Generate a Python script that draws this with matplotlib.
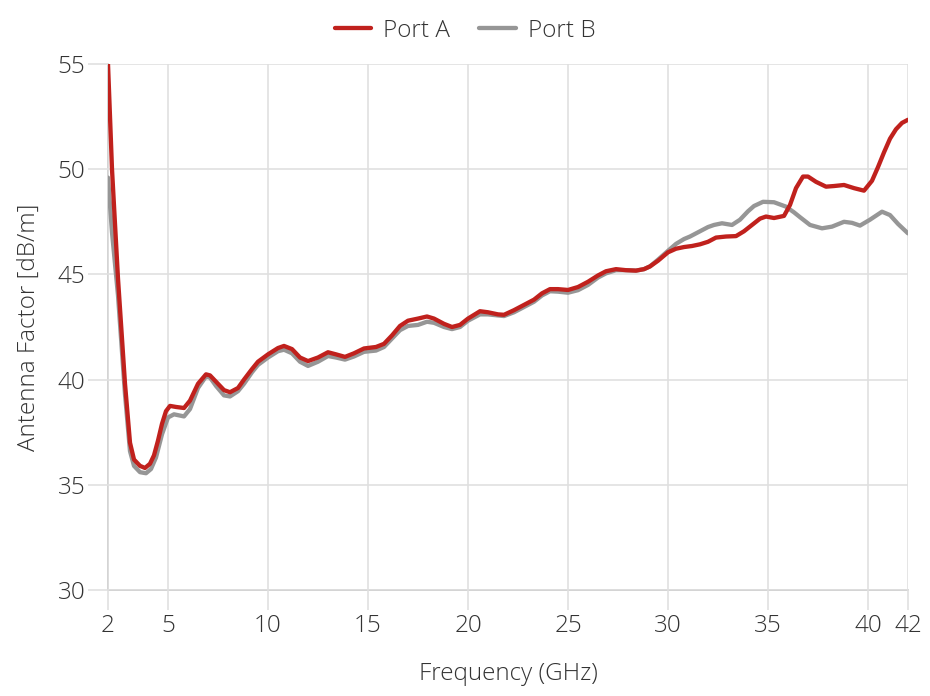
import matplotlib
matplotlib.use("Agg")
import matplotlib.pyplot as plt

# ---- data ----
freq_a = [2.0, 2.2, 2.5, 2.85, 3.1, 3.3, 3.6, 3.85, 4.1, 4.3, 4.5, 4.7, 4.9, 5.1, 5.4, 5.8,
          6.1, 6.5, 6.9, 7.1, 7.4, 7.8, 8.1, 8.5, 8.8, 9.2, 9.5, 10.0, 10.5, 10.8, 11.2,
          11.6, 12.0, 12.5, 13.0, 13.4, 13.85, 14.3, 14.8, 15.4, 15.8, 16.2, 16.6, 17.0,
          17.5, 17.95, 18.3, 18.8, 19.2, 19.6, 20.0, 20.6, 21.0, 21.5, 21.8, 22.3, 22.8,
          23.3, 23.7, 24.1, 24.5, 25.0, 25.5, 26.0, 26.5, 26.9, 27.4, 27.9, 28.4, 28.8,
          29.1, 29.5, 30.0, 30.4, 30.8, 31.2, 31.6, 32.0, 32.4, 32.9, 33.4, 33.8, 34.2,
          34.6, 34.9, 35.3, 35.8, 36.1, 36.4, 36.75, 37.0, 37.4, 37.9, 38.3, 38.8, 39.3,
          39.8, 40.2, 40.5, 40.8, 41.1, 41.4, 41.7, 42.0]
port_a = [55.0, 50.0, 44.8, 39.8, 37.0, 36.2, 35.9, 35.8, 36.0, 36.4, 37.1, 37.9, 38.5, 38.75,
          38.7, 38.65, 39.0, 39.8, 40.25, 40.2, 39.9, 39.5, 39.4, 39.6, 40.0, 40.5, 40.85,
          41.2, 41.5, 41.6, 41.45, 41.05, 40.88, 41.05, 41.3, 41.2, 41.08, 41.25, 41.48,
          41.55, 41.7, 42.1, 42.55, 42.8, 42.9, 43.0, 42.9, 42.65, 42.5, 42.6, 42.9, 43.25,
          43.2, 43.1, 43.08, 43.3, 43.55, 43.8, 44.1, 44.3, 44.3, 44.26, 44.4, 44.65, 44.95,
          45.15, 45.25, 45.2, 45.18, 45.25, 45.38, 45.65, 46.05, 46.22, 46.3, 46.35, 46.43,
          46.55, 46.75, 46.8, 46.82, 47.05, 47.35, 47.65, 47.75, 47.68, 47.78, 48.3, 49.1,
          49.65, 49.65, 49.4, 49.17, 49.2, 49.25, 49.1, 48.98, 49.45, 50.1, 50.8, 51.45,
          51.9, 52.2, 52.35]

freq_b = [2.0, 2.2, 2.5, 2.85, 3.1, 3.3, 3.6, 3.9, 4.15, 4.4, 4.7, 5.0, 5.3, 5.8, 6.1, 6.5,
          6.9, 7.1, 7.4, 7.8, 8.1, 8.5, 8.8, 9.2, 9.5, 10.0, 10.5, 10.8, 11.2, 11.6, 12.0,
          12.5, 13.0, 13.4, 13.85, 14.3, 14.8, 15.4, 15.8, 16.2, 16.6, 17.0, 17.5, 17.95,
          18.3, 18.8, 19.2, 19.6, 20.0, 20.6, 21.0, 21.5, 21.8, 22.3, 22.8, 23.3, 23.7,
          24.1, 24.5, 25.0, 25.5, 26.0, 26.5, 26.9, 27.4, 27.9, 28.4, 28.8, 29.1, 29.5,
          30.0, 30.4, 30.8, 31.1, 31.6, 32.0, 32.3, 32.7, 33.2, 33.6, 34.0, 34.3, 34.75,
          35.3, 35.9, 36.3, 36.6, 37.1, 37.7, 38.2, 38.8, 39.2, 39.6, 40.1, 40.7, 41.1,
          41.5, 42.0]
port_b = [49.6, 47.0, 44.0, 39.3, 36.6, 35.9, 35.6, 35.55, 35.75, 36.3, 37.4, 38.2, 38.35,
          38.25, 38.6, 39.6, 40.15, 40.1, 39.7, 39.25, 39.2, 39.45, 39.8, 40.35, 40.7, 41.05,
          41.35, 41.42, 41.25, 40.85, 40.65, 40.85, 41.12, 41.05, 40.95, 41.1, 41.32, 41.38,
          41.55, 41.95, 42.35, 42.55, 42.6, 42.75, 42.7, 42.5, 42.4, 42.5, 42.8, 43.1, 43.1,
          43.05, 43.02, 43.2, 43.45, 43.7, 44.0, 44.2, 44.18, 44.13, 44.25, 44.5, 44.85,
          45.05, 45.2, 45.2, 45.18, 45.25, 45.38, 45.7, 46.12, 46.45, 46.68, 46.8, 47.05,
          47.25, 47.35, 47.43, 47.35, 47.6, 48.0, 48.25, 48.45, 48.43, 48.22, 47.95, 47.72,
          47.35, 47.19, 47.27, 47.5, 47.45, 47.32, 47.6, 47.98, 47.82, 47.4, 46.95]

x_ticks = [2, 5, 10, 15, 20, 25, 30, 35, 40, 42]
y_ticks = [30, 35, 40, 45, 50, 55]

# ---- style ----
plt.rcParams['font.family'] = ['Open Sans', 'DejaVu Sans']
plt.rcParams['font.weight'] = 'light'
TEXT = '#333333'
GRID = '#e0e0e0'
RED = '#c0211d'
GRAY = '#969696'
FS = 17.5

fig = plt.figure(figsize=(9.3, 6.96), dpi=100)
ax = fig.add_axes([108 / 930, 106 / 696, 800 / 930, 526 / 696])

ax.plot(freq_b, port_b, color=GRAY, lw=3.1, solid_joinstyle='round',
        solid_capstyle='round', label='Port B', zorder=3)
ax.plot(freq_a, port_a, color=RED, lw=3.1, solid_joinstyle='round',
        solid_capstyle='round', label='Port A', zorder=4)

ax.set_xlim(2, 42)
ax.set_ylim(30, 55)
ax.set_xticks(x_ticks)
ax.set_yticks(y_ticks)
ax.grid(True, color=GRID, lw=1.2, zorder=0)
ax.tick_params(axis='both', length=14.4, width=1.2, color=GRID,
               labelsize=FS, labelcolor=TEXT)
ax.tick_params(axis='x', pad=3)
ax.tick_params(axis='y', pad=2)
for lab in ax.get_xticklabels() + ax.get_yticklabels():
    lab.set_fontweight('light')

for s in ('top', 'right'):
    ax.spines[s].set_visible(False)
for s in ('left', 'bottom'):
    ax.spines[s].set_color('#cccccc')
    ax.spines[s].set_linewidth(1.2)
    ax.spines[s].set_zorder(1)

ax.set_xlabel('Frequency (GHz)', fontsize=FS, color=TEXT, fontweight='light', labelpad=17)
ax.set_ylabel('Antenna Factor [dB/m]', fontsize=FS, color=TEXT, fontweight='light', labelpad=12)

handles, labels = ax.get_legend_handles_labels()
leg = fig.legend(handles[::-1], labels[::-1], loc='center', bbox_to_anchor=(0.5, 1 - 31 / 696),
                 ncol=2, frameon=False, fontsize=FS, handlelength=1.5,
                 handletextpad=0.5, columnspacing=1.2)
for t in leg.get_texts():
    t.set_color(TEXT)
    t.set_fontweight('light')

fig.savefig('out.png', dpi=100)
